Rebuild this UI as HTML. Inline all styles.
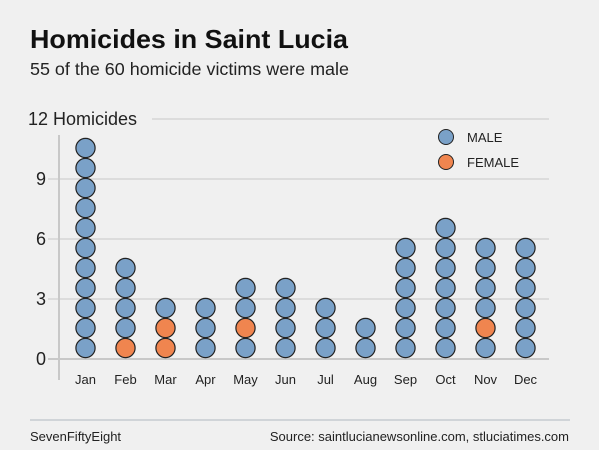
<!DOCTYPE html>
<html><head><meta charset="utf-8"><style>
body{margin:0;background:#f0f0f0;width:599px;height:450px;overflow:hidden;font-family:"Liberation Sans",sans-serif}
</style></head><body>
<svg width="599" height="450" style="position:absolute;left:0;top:0">
<text x="30" y="48" font-size="26" font-weight="bold" fill="#111" textLength="318" lengthAdjust="spacingAndGlyphs">Homicides in Saint Lucia</text>
<text x="30" y="75" font-size="17.8" fill="#222" textLength="319" lengthAdjust="spacingAndGlyphs">55 of the 60 homicide victims were male</text>
<g id="grid"></g>
<line x1="59" y1="135" x2="59" y2="380" stroke="#c8c8c8" stroke-width="2"/>
<g id="marks"></g>
<g>
<circle cx="446" cy="137" r="7.5" fill="#7aa1c8" stroke="#222"/>
<text x="467" y="142" font-size="13" fill="#222">MALE</text>
<circle cx="446" cy="162" r="7.5" fill="#f0854f" stroke="#222"/>
<text x="467" y="167" font-size="13" fill="#222">FEMALE</text>
</g>
<line x1="30" y1="420" x2="570" y2="420" stroke="#d0d4d8" stroke-width="2"/>
<text x="30" y="441" font-size="13" fill="#222">SevenFiftyEight</text>
<text x="569" y="441" font-size="13" fill="#222" text-anchor="end">Source: saintlucianewsonline.com, stluciatimes.com</text>
</svg>
<script>
const months=["Jan","Feb","Mar","Apr","May","Jun","Jul","Aug","Sep","Oct","Nov","Dec"];
const stacks=["MMMMMMMMMMM","FMMMM","FFM","MMM","MFMM","MMMM","MMM","MM","MMMMMM","MMMMMMM","MFMMMM","MMMMMM"];
const yTicks=[0,3,6,9,12];
const NS="http://www.w3.org/2000/svg";
function y(v){return 359-20*v;}
function x(i){return 85.5+40*i;}
function mk(t,a,p){const e=document.createElementNS(NS,t);for(const k in a)e.setAttribute(k,a[k]);p.appendChild(e);return e;}
const grid=document.getElementById('grid'),marks=document.getElementById('marks');
yTicks.forEach(t=>{
  const l=mk('line',{x1:t==12?152:48,x2:549,y1:y(t),y2:y(t),stroke:t==0?'#c8c8c8':'#dcdcdc','stroke-width':2},grid);
  
  
  const tx=mk('text',{x:t==12?28:46,y:y(t)+6,'font-size':18,fill:'#222','text-anchor':t==12?'start':'end'},grid);
  tx.textContent=t==12?'12 Homicides':String(t);
  
  
});
months.forEach((m,i)=>{
  const tx=mk('text',{x:x(i),y:384,'font-size':13,fill:'#222','text-anchor':'middle'},grid);
  tx.textContent=m;
  
  
  stacks[i].split('').forEach((g,j)=>{
    const c=mk('circle',{cx:x(i),cy:y(j+0.5)-1,r:9.6,fill:g=='F'?'#f0854f':'#7aa1c8',stroke:'#222','stroke-width':1.2},marks);
    
    
  });
});
</script>
</body></html>
